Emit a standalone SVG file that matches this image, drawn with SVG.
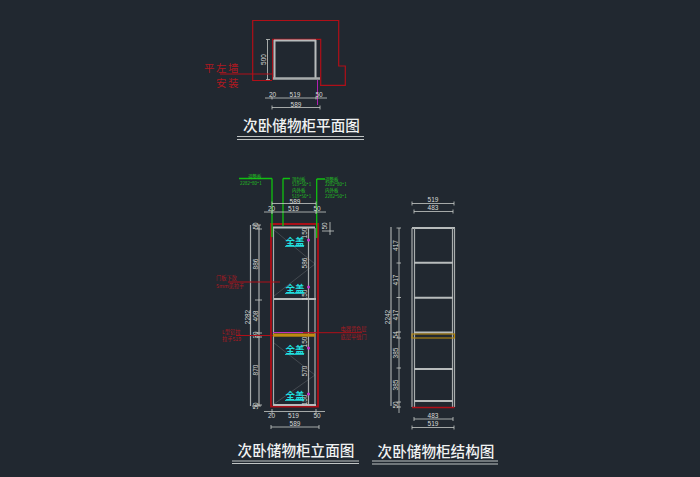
<svg xmlns="http://www.w3.org/2000/svg" width="700" height="477" viewBox="0 0 700 477">
<style>
text{font-family:"Liberation Sans","Noto Sans CJK SC",sans-serif}
.cn{font-family:"Noto Sans CJK SC",sans-serif}
.t{font-size:14.6px;font-weight:500;fill:#f0f2f2;text-anchor:middle;font-family:"Noto Sans CJK SC",sans-serif}
.d{font-size:6.5px;fill:#d8dad8;text-anchor:middle}
.g{font-size:4.5px;fill:#22c322;font-family:"Noto Sans CJK SC",sans-serif}
.r{font-size:5.2px;fill:#b01820;font-family:"Noto Sans CJK SC",sans-serif}
.c{font-size:9.5px;font-weight:700;fill:#20e0e0;text-anchor:middle;font-family:"Noto Sans CJK SC",sans-serif}
.w{stroke:#a8acac;stroke-width:1.2;fill:none}
.w2{stroke:#b8bcbc;stroke-width:2;fill:none}
.dl{stroke:#c8cac8;stroke-width:.8;fill:none}
.red{stroke:#b00f18;stroke-width:1.2;fill:none}
.red2{stroke:#a80f18;stroke-width:1.9;fill:none}
.grn{stroke:#10c010;stroke-width:1.3;fill:none}
.gl{stroke:#5a6064;stroke-width:.6;fill:none}
.u{stroke:#c0c4c4;stroke-width:1.1;fill:none}
</style>
<rect width="700" height="477" fill="#212830"/>
<g id="plan">
<path class="red" d="M272 80.500H252.700V20.500H338.700V66H345.300V85.300H320"/>
<path class="red" d="M272.700 80V39.300H320.700V85"/>
<path class="w2" d="M274 40.500H316M274.500 40V79M315.500 40V79" stroke-width="2.400"/>
<path d="M273 78.500H320" stroke="#a8acac" stroke-width="2.400" fill="none"/>
<path d="M317.500 80V105" stroke="#b020b0" stroke-width="1" fill="none"/>
<path class="dl" d="M267.500 39.500V79.500M266 39.500H270M266 79.500H270"/>
<text class="d" transform="translate(266 59.500) rotate(-90)">500</text>
<path class="dl" d="M265 98H327M272 96.500V99.500M316 96.500V99.500M272 107.500H320M272 105.500V109.500M320 105.500V109.500"/>
<text class="d" x="272.500" y="96.500">20</text><text class="d" x="295" y="96.500">519</text><text class="d" x="319" y="96.500">50</text>
<text class="d" x="296" y="106.500">589</text>
<path d="M220 74H272" stroke="#b00f18" stroke-width="1" fill="none"/>
<text class="cn" x="204" y="72" font-size="10.500" fill="#b01820" letter-spacing="1.500">平左墙</text>
<text class="cn" x="216" y="87" font-size="10.500" fill="#b01820" letter-spacing="1.500">安装</text>
<text class="t" x="301.500" y="131">次卧储物柜平面图</text>
<path class="u" d="M237 136.500H364M237 139.500H364"/>
</g>
<g id="elevation">
<path class="gl" d="M274 230L315 264L274 296M274 343L315 375L274 404"/>
<path class="red2" d="M271 224H318V406.500H271Z"/>
<path class="w2" d="M273 227.500H315"/>
<path class="w" d="M273.500 228V405M308.500 228V405M315 228V405"/>
<path class="w2" d="M274 299H316M273 405H316" stroke-width="1.400"/>
<rect x="273" y="333.500" width="42" height="3.200" fill="#c08a10"/>
<path d="M273 332.500H316" stroke="#c030c0" stroke-width="1.200"/>
<path class="grn" d="M272 178.500V237M239 178.500H272M283 178.500V226M283 178.500H290M316.700 179V238M316.700 179H325"/>
<path class="dl" d="M264 212H326M272 203.500H316M272 201.500V205.500M316 201.500V205.500M272 210V214M316 210V214M264 411.500H325M272 409V414M316 409V414M271 427H319M271 425V429M319 425V429"/>
<text class="d" x="271.500" y="211">20</text><text class="d" x="293.500" y="211">519</text><text class="d" x="317" y="211">50</text>
<text class="d" x="295" y="203.500">589</text>
<text class="d" x="271.500" y="418">20</text><text class="d" x="293.500" y="418">519</text><text class="d" x="317" y="418">50</text>
<text class="d" x="295" y="426">589</text>
<path class="w" d="M250.500 225V406M259 225V406"/>
<path class="dl" d="M252 225H261M252 406H261M255 229H262M255 300H262M255 333H262M255 337H262M255 405H262"/>
<text class="d" transform="translate(258 226) rotate(-90)">50</text>
<text class="d" transform="translate(258 264) rotate(-90)">886</text>
<text class="d" transform="translate(258 316) rotate(-90)">408</text>
<text class="d" transform="translate(258 335) rotate(-90)">30</text>
<text class="d" transform="translate(258 370) rotate(-90)">870</text>
<text class="d" transform="translate(258 406) rotate(-90)">50</text>
<text class="d" transform="translate(250 317) rotate(-90)">2282</text>
<path class="dl" d="M330 222V235M322 231H334"/>
<text class="d" transform="translate(327 226) rotate(-90)">50</text>
<text class="d" transform="translate(307 233) rotate(-90)">150</text>
<text class="d" transform="translate(307 263) rotate(-90)">586</text>
<text class="d" transform="translate(307 295) rotate(-90)">150</text>
<text class="d" transform="translate(307 342) rotate(-90)">150</text>
<text class="d" transform="translate(307 371) rotate(-90)">570</text>
<text class="d" transform="translate(307 400) rotate(-90)">150</text>
<text class="g" x="248" y="177.500">调整板</text><text class="g" x="240" y="184.500">2282*80*1</text>
<text class="g" x="292" y="180.500">顶封板</text><text class="g" x="292" y="186">519*50*1</text><text class="g" x="292" y="192">内外板</text><text class="g" x="292" y="197.500">519*50*1</text>
<text class="g" x="325" y="180.500">调整板</text><text class="g" x="325" y="186">2282*80*1</text><text class="g" x="325" y="192">内外板</text><text class="g" x="325" y="197.500">2282*50*1</text>
<text class="c" x="295" y="245">全盖</text><path d="M285 246.500H304" stroke="#20e0e0" stroke-width=".8"/>
<text class="c" x="295" y="292">全盖</text><path d="M285 293.500H304" stroke="#20e0e0" stroke-width=".8"/>
<text class="c" x="295" y="353">全盖</text><path d="M285 354.500H304" stroke="#20e0e0" stroke-width=".8"/>
<text class="c" x="295" y="399">全盖</text><path d="M285 400.500H304" stroke="#20e0e0" stroke-width=".8"/>
<path d="M308.500 240V240.100M308.500 287V287.100M308.500 348V348.100M308.500 394V394.100" stroke="#d030d0" stroke-width="3" stroke-linecap="round"/>
<path d="M228 282H280M236 335.500H273M303 332.700H362" stroke="#b00f18" stroke-width="1" fill="none"/>
<text class="r" x="216" y="279.500">门板下款</text><text class="r" x="216" y="287.500">5mm见拉手</text>
<text class="r" x="222" y="333.500">L型铝拉</text><text class="r" x="222" y="341">拉手519</text>
<text class="r" x="340.500" y="330.500">电器背色层</text><text class="r" x="340.500" y="339">底层平缝门</text>
<text class="t" x="296" y="455.500">次卧储物柜立面图</text>
<path class="u" d="M232 461H359M232 463.500H359"/>
</g>
<g id="structure">
<path class="w2" d="M412 228H455"/>
<path class="w" d="M412 228V407M414.500 228V407M452.500 228V407M454.500 228V407"/>
<path class="w2" d="M414 262.700H453"/>
<path class="w2" d="M414 297.700H453" stroke-width="2.600"/>
<path class="w2" d="M414 332.500H453M414 369H453" stroke-width="1.600"/>
<path class="w2" d="M414 401H453" stroke-width="2.600"/>
<rect x="412" y="334" width="42.500" height="4" fill="none" stroke="#b8890f" stroke-width="1.100"/>
<path d="M412 407.500H454.500" stroke="#b00f18" stroke-width="1.300"/>
<path class="w" d="M391 227V406"/>
<path class="dl" d="M399 228V413M396.500 228H401M396.500 263H401M396.500 297.500H401M396.500 332H401M396.500 338H401M396.500 368H401M396.500 402H401M396.500 407H401"/>
<text class="d" transform="translate(398 245.500) rotate(-90)">417</text>
<text class="d" transform="translate(398 280) rotate(-90)">417</text>
<text class="d" transform="translate(398 315) rotate(-90)">417</text>
<text class="d" transform="translate(398 335) rotate(-90)">54</text>
<text class="d" transform="translate(398 353) rotate(-90)">385</text>
<text class="d" transform="translate(398 385) rotate(-90)">385</text>
<text class="d" transform="translate(398 405) rotate(-90)">50</text>
<text class="d" transform="translate(390 317) rotate(-90)">2242</text>
<path class="dl" d="M412 203.500H454M412 201.500V205.500M454 201.500V205.500M414 211.500H453M414 209.500V213.500M453 209.500V213.500M414 419H453M414 417V421M453 417V421M412 427.500H454M412 425.500V429.500M454 425.500V429.500"/>
<text class="d" x="433" y="202">519</text><text class="d" x="433" y="210">483</text>
<text class="d" x="433" y="418">483</text><text class="d" x="433" y="426">519</text>
<text class="t" x="436" y="456.500">次卧储物柜结构图</text>
<path class="u" d="M372 461H498M372 464H498"/>
</g>
</svg>
